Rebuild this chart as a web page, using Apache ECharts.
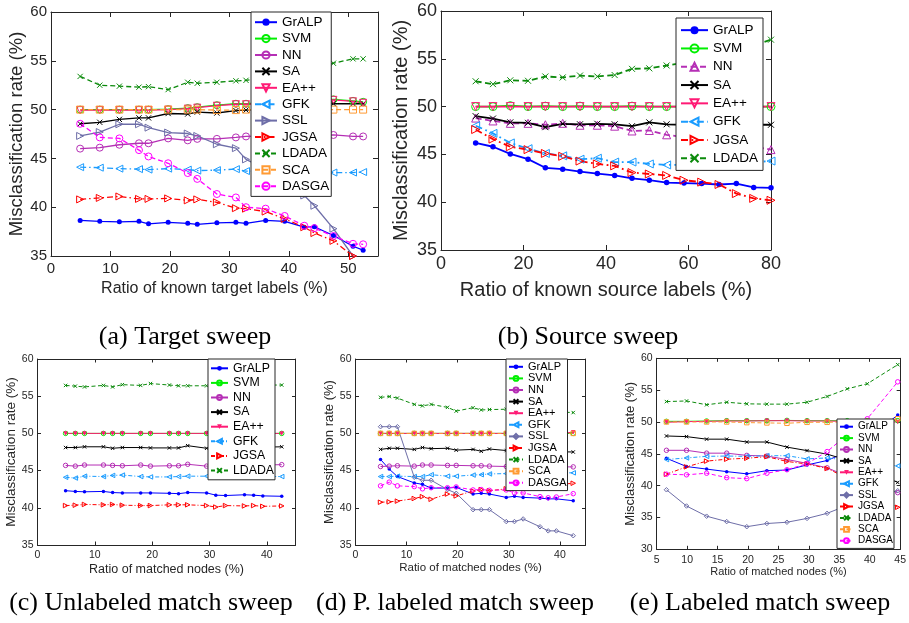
<!DOCTYPE html>
<html lang="en">
<head>
<meta charset="UTF-8">
<title>Misclassification rate sweeps</title>
<script src="https://cdn.jsdelivr.net/npm/echarts@6/dist/echarts.min.js"></script>
<style>
    html, body { margin: 0; padding: 0; background: #fff; }
    #main { width: 909px; height: 623px; }
</style>
</head>
<body>
<div id="main"></div>
<script>
// (a) target sweep
var aX = [4.9, 8.2, 11.5, 14.8, 16.4, 19.7, 23.0, 24.6, 27.9, 31.1, 32.8, 36.1, 39.3, 42.6, 44.3, 47.5, 50.8, 52.5];
var aGrALP = [38.65, 38.55, 38.5, 38.55, 38.3, 38.45, 38.35, 38.25, 38.4, 38.45, 38.35, 38.65, 38.55, 37.95, 38.0, 37.1, 36.0, 35.6];
var aSVM = [50.0, 50.0, 50.0, 50.0, 50.0, 50.05, 50.15, 50.25, 50.45, 50.6, 50.6, 50.7, 50.8, 50.9, 50.95, 51.05, 50.9, 50.8];
var aNN = [46.0, 46.1, 46.4, 46.55, 46.55, 47.05, 46.85, 47.0, 47.0, 47.15, 47.25, 47.3, 47.3, 47.35, 47.35, 47.4, 47.25, 47.25];
var aSA = [48.55, 48.7, 49.0, 49.15, 49.15, 49.6, 49.55, 49.75, 49.65, 49.9, 49.95, 50.1, 50.25, 50.4, 50.5, 50.6, 50.6, 50.6];
var aEA = [49.95, 49.95, 49.95, 49.95, 49.95, 50.0, 50.1, 50.2, 50.4, 50.55, 50.55, 50.65, 50.75, 50.85, 50.9, 51.0, 50.85, 50.7];
var aGFK = [44.1, 44.05, 43.95, 43.9, 43.85, 43.95, 43.85, 43.75, 43.8, 43.9, 43.7, 43.65, 43.6, 43.55, 43.55, 43.55, 43.55, 43.6];
var aSSL = [47.3, 47.7, 48.5, 48.5, 48.15, 47.65, 47.55, 47.3, 46.45, 46.05, 44.9, 43.9, 42.6, 41.2, 40.15, 37.8, 35.0, 34.2];
var aJGSA = [40.8, 40.95, 41.1, 40.85, 40.85, 40.9, 40.7, 40.8, 40.5, 39.9, 39.85, 39.55, 38.8, 37.95, 37.35, 36.55, 35.0, 34.3];
var aLDADA = [53.4, 52.5, 52.4, 52.3, 52.35, 52.05, 52.8, 52.7, 52.8, 52.95, 53.0, 53.3, 53.6, 54.0, 54.3, 54.75, 55.2, 55.2];
var aSCA = [50.0, 50.0, 50.0, 50.0, 50.0, 50.0, 50.0, 50.0, 49.95, 49.95, 50.0, 50.0, 50.0, 50.0, 50.0, 50.0, 50.0, 50.0];
var aDASGA = [48.55, 47.15, 47.05, 45.85, 45.2, 44.5, 43.5, 42.9, 41.35, 41.0, 40.0, 39.85, 39.1, 38.1, 37.85, 37.05, 36.25, 36.2];

// (b) source sweep
var bX = [8.4, 12.6, 16.8, 21.1, 25.3, 29.5, 33.7, 37.9, 42.1, 46.3, 50.5, 54.7, 58.9, 63.2, 67.4, 71.6, 75.8, 80.0];
var bGrALP = [46.2, 45.8, 45.05, 44.5, 43.6, 43.45, 43.2, 43.0, 42.8, 42.5, 42.3, 42.05, 42.0, 41.95, 41.85, 41.95, 41.55, 41.5];
var bSVM = [50.0, 50.0, 50.1, 50.0, 50.05, 50.0, 50.05, 50.0, 50.0, 50.05, 50.0, 50.0, 50.0, 50.0, 50.0, 50.0, 50.0, 50.0];
var bNN = [48.8, 48.5, 48.25, 48.25, 48.1, 48.25, 48.05, 48.05, 47.95, 47.45, 47.5, 47.05, 46.8, 46.5, 46.2, 46.0, 45.8, 45.5];
var bSA = [49.0, 48.75, 48.35, 48.3, 47.85, 48.2, 48.15, 48.2, 48.15, 47.95, 48.35, 48.15, 48.1, 48.1, 48.1, 48.1, 48.1, 48.1];
var bEA = [50.0, 50.0, 50.0, 50.0, 50.0, 50.0, 50.0, 50.0, 50.0, 50.0, 50.0, 50.0, 50.0, 50.0, 50.0, 50.0, 50.0, 50.0];
var bGFK = [48.0, 47.2, 46.2, 45.6, 45.1, 44.85, 44.5, 44.6, 44.2, 44.2, 44.0, 43.9, 43.9, 43.9, 44.0, 44.1, 44.2, 44.3];
var bJGSA = [47.6, 46.6, 45.8, 45.5, 45.1, 44.8, 44.3, 44.0, 43.8, 43.1, 42.95, 42.8, 42.3, 42.1, 41.85, 40.9, 40.4, 40.2];
var bLDADA = [52.65, 52.35, 52.75, 52.7, 53.15, 53.05, 53.25, 53.15, 53.3, 53.95, 54.0, 54.3, 54.6, 55.0, 55.4, 55.9, 56.4, 57.0];

// (c) unlabeled and (d) partially labeled match sweeps share the x values
var cdX = [4.9, 6.6, 8.2, 11.5, 13.1, 14.8, 18.0, 19.7, 23.0, 24.6, 26.2, 29.5, 31.1, 32.8, 36.1, 37.7, 39.3, 42.6];
var cGrALP = [42.3, 42.2, 42.15, 42.2, 42.05, 42.0, 42.0, 42.0, 41.95, 41.9, 42.05, 42.0, 41.7, 41.65, 41.75, 41.7, 41.6, 41.55];
var cSVM = [50.0, 50.0, 50.0, 50.0, 50.0, 50.0, 50.0, 50.0, 50.0, 50.0, 50.0, 50.0, 50.0, 50.0, 50.0, 50.0, 50.0, 50.0];
var cNN = [45.7, 45.6, 45.75, 45.75, 45.7, 45.65, 45.75, 45.6, 45.65, 45.65, 45.85, 45.6, 45.65, 45.7, 45.7, 45.7, 45.75, 45.8];
var cSA = [48.1, 48.1, 48.2, 48.2, 48.0, 48.1, 48.1, 48.05, 48.05, 48.05, 48.35, 48.0, 48.1, 48.1, 48.1, 48.15, 48.15, 48.2];
var cEA = [50.0, 50.0, 50.0, 50.0, 50.0, 50.0, 50.0, 50.0, 50.0, 50.0, 50.0, 50.0, 50.0, 50.0, 50.0, 50.0, 50.0, 50.0];
var cGFK = [44.1, 44.0, 44.25, 44.2, 44.35, 44.4, 44.2, 44.15, 44.15, 44.2, 44.25, 44.25, 44.2, 44.2, 44.2, 44.2, 44.2, 44.2];
var cJGSA = [40.3, 40.35, 40.45, 40.4, 40.45, 40.35, 40.3, 40.3, 40.4, 40.4, 40.4, 40.3, 40.1, 40.3, 40.25, 40.3, 40.2, 40.25];
var cLDADA = [56.45, 56.35, 56.25, 56.45, 56.25, 56.55, 56.45, 56.7, 56.5, 56.4, 56.4, 56.4, 56.4, 56.45, 56.45, 56.45, 56.5, 56.5];

var dGrALP = [46.5, 45.2, 44.2, 43.35, 43.15, 42.65, 42.65, 42.75, 41.85, 41.95, 41.85, 41.4, 41.55, 41.4, 41.3, 41.2, 41.2, 40.95];
var dSVM = [50.0, 50.0, 50.0, 50.0, 50.0, 50.0, 50.0, 50.0, 50.0, 50.0, 50.0, 50.0, 50.0, 50.0, 50.0, 50.0, 50.0, 50.0];
var dNN = [45.55, 45.6, 45.65, 45.6, 45.75, 45.75, 45.7, 45.7, 45.65, 45.65, 45.6, 45.55, 45.55, 45.55, 45.5, 45.5, 45.5, 45.5];
var dSA = [47.85, 48.0, 48.0, 47.85, 48.1, 47.95, 48.0, 47.75, 47.85, 47.6, 47.9, 47.7, 47.65, 47.6, 47.6, 47.55, 47.55, 47.5];
var dEA = [50.0, 50.0, 50.0, 50.0, 50.0, 50.0, 50.0, 50.0, 50.0, 50.0, 50.0, 50.0, 50.0, 50.0, 50.0, 50.0, 50.0, 50.15];
var dGFK = [44.2, 44.2, 44.25, 44.2, 44.2, 44.45, 44.25, 44.25, 44.4, 44.45, 44.55, 44.6, 44.6, 44.65, 44.65, 44.65, 44.7, 44.7];
var dSSL = [50.9, 50.9, 50.9, 44.1, 43.7, 43.7, 42.45, 41.95, 39.75, 39.75, 39.75, 38.15, 38.15, 38.5, 37.45, 36.9, 36.9, 36.25];
var dJGSA = [40.75, 40.8, 40.9, 41.25, 41.5, 41.15, 41.85, 41.6, 42.25, 42.45, 42.3, 42.55, 42.6, 42.7, 42.9, 43.0, 43.1, 43.3];
var dLDADA = [54.85, 54.95, 54.75, 53.9, 53.7, 53.9, 53.5, 53.0, 53.45, 53.15, 53.2, 53.25, 53.2, 53.1, 53.0, 52.95, 52.9, 52.8];
var dSCA = [50.0, 50.0, 50.0, 50.0, 50.0, 50.0, 50.0, 50.0, 50.0, 50.0, 50.0, 50.0, 50.0, 50.0, 50.0, 50.0, 50.0, 50.0];
var dDASGA = [42.95, 43.45, 42.95, 42.85, 42.55, 42.7, 42.7, 42.8, 42.4, 42.45, 42.35, 42.4, 42.0, 42.0, 41.5, 41.35, 41.45, 41.9];

// (e) labeled match sweep
var eX = [6.6, 9.9, 13.2, 16.5, 19.8, 23.1, 26.4, 29.7, 33.0, 36.3, 39.6, 44.6];
var eGrALP = [44.3, 43.0, 42.6, 42.2, 41.85, 42.35, 42.45, 43.25, 43.95, 45.3, 47.3, 51.1];
var eSVM = [50.1, 50.1, 50.15, 50.2, 50.2, 50.2, 50.25, 50.2, 50.2, 50.2, 50.2, 50.2];
var eNN = [45.55, 45.55, 45.1, 45.1, 44.75, 44.65, 44.1, 43.5, 42.8, 41.5, 40.3, 38.9];
var eSA = [47.8, 47.7, 47.3, 47.3, 46.85, 46.85, 46.05, 45.5, 44.95, 44.0, 42.6, 40.5];
var eEA = [49.95, 50.05, 50.1, 50.15, 50.15, 50.2, 50.2, 50.15, 50.15, 50.1, 50.1, 50.0];
var eGFK = [44.1, 44.35, 44.6, 44.65, 44.6, 44.7, 44.7, 44.2, 44.35, 44.0, 43.6, 43.1];
var eSSL = [39.35, 36.8, 35.2, 34.35, 33.55, 34.05, 34.25, 34.85, 35.65, 36.9, 38.0, 39.2];
var eJGSA = [41.8, 42.95, 43.85, 44.15, 44.3, 44.55, 43.8, 43.4, 42.7, 41.2, 39.2, 36.6];
var eLDADA = [53.2, 53.3, 52.7, 53.1, 52.85, 52.8, 52.8, 53.1, 54.0, 55.2, 56.0, 59.0];
var eSCA = [50.0, 50.0, 50.0, 50.0, 49.9, 49.85, 49.8, 49.95, 49.95, 50.0, 50.1, 50.5];
var eDASGA = [41.8, 41.7, 41.95, 41.25, 41.1, 41.95, 42.5, 43.45, 45.35, 48.0, 50.5, 56.3];

var FONT = 'Liberation Sans, Arial, Helvetica, sans-serif';
var AXC = '#262626';

var COLORS = {
    'GrALP': '#0000ff', 'SVM': '#00f000', 'NN': '#b52fb5', 'SA': '#000000', 'EA++': '#ff1a75',
    'GFK': '#1a9cff', 'SSL': '#6e6ea8', 'JGSA': '#ff0000', 'LDADA': '#0b8a0b', 'SCA': '#ff9a33', 'DASGA': '#ff00ff'
};
var SHAPES = {
    circle: 'circle', up: 'triangle', diamond: 'diamond', square: 'rect',
    down: 'path://M0,0L10,0L5,9Z',
    left: 'path://M0,5L9,0L9,10Z',
    right: 'path://M0,0L9,5L0,10Z',
    x: 'path://M0,0L10,10M10,0L0,10'
};
// [line type, marker, filled]
var STYLE = {
    'GrALP': ['solid', 'circle', true],
    'SVM': ['solid', 'circle', false],
    'NN': ['solid', 'circle', false],
    'SA': ['solid', 'x', false],
    'EA++': ['solid', 'down', false],
    'GFK': ['dashdot', 'left', false],
    'SSL': ['solid', 'right', false],
    'JGSA': ['dashdot', 'right', false],
    'LDADA': ['dashed', 'x', false],
    'SCA': ['dashed', 'square', false],
    'DASGA': ['dashed', 'circle', false]
};

var panels = [
    {
        id: 'a', x: aX,
        y: { 'GrALP': aGrALP, 'SVM': aSVM, 'NN': aNN, 'SA': aSA, 'EA++': aEA, 'GFK': aGFK, 'SSL': aSSL, 'JGSA': aJGSA, 'LDADA': aLDADA, 'SCA': aSCA, 'DASGA': aDASGA },
        box: { left: 51, top: 12, width: 327, height: 244 },
        xr: [0, 55, 10], yr: [35, 60, 5], xName: 'Ratio of known target labels (%)',
        tick: 15, xNameSize: 16, yNameSize: 18.5, xGap: 25, yGap: 24, tickLen: 5, sym: 7, dot: 5, lw: 1.3,
        dash: [5, 3], dashDot: [6, 3, 1.5, 3],
        leg: { left: 251, top: 12, font: 13.5, row: 16.4, iw: 22, ih: 9, pad: [2, 2, 2, 3] },
        cap: { text: '(a) Target sweep', x: 185, y: 337 }
    },
    {
        id: 'b', x: bX,
        y: { 'GrALP': bGrALP, 'SVM': bSVM, 'NN': bNN, 'SA': bSA, 'EA++': bEA, 'GFK': bGFK, 'JGSA': bJGSA, 'LDADA': bLDADA },
        over: { 'NN': ['dashed', 'up', false] },
        box: { left: 441, top: 11, width: 330, height: 239 },
        xr: [0, 80, 20], yr: [35, 60, 5], xName: 'Ratio of known source labels (%)',
        tick: 18, xNameSize: 20, yNameSize: 20, xGap: 30, yGap: 30, tickLen: 5, sym: 8, dot: 5.5, lw: 1.8,
        dash: [6, 3.5], dashDot: [7, 3.5, 1.8, 3.5],
        leg: { left: 676, top: 18, font: 13.5, row: 18.3, iw: 27, ih: 10, pad: [3, 5, 3, 4] },
        cap: { text: '(b) Source sweep', x: 588, y: 337 }
    },
    {
        id: 'c', x: cdX,
        y: { 'GrALP': cGrALP, 'SVM': cSVM, 'NN': cNN, 'SA': cSA, 'EA++': cEA, 'GFK': cGFK, 'JGSA': cJGSA, 'LDADA': cLDADA },
        over: { 'EA++': ['solid', 'down', true] },
        box: { left: 37.5, top: 359, width: 258, height: 186 },
        xr: [0, 45, 10], yr: [35, 60, 5], xName: 'Ratio of matched nodes (%)',
        tick: 10.5, xNameSize: 12.5, yNameSize: 13.5, xGap: 18, yGap: 19, tickLen: 3.5, sym: 4.5, dot: 3.5, lw: 1,
        dash: [4, 2.5], dashDot: [4, 2, 1, 2],
        leg: { left: 208, top: 359, font: 12.3, row: 14.6, iw: 17, ih: 6, pad: [2, 1, 2, 2] },
        cap: { text: '(c) Unlabeled match sweep', x: 151, y: 603 }
    },
    {
        id: 'd', x: cdX,
        y: { 'GrALP': dGrALP, 'SVM': dSVM, 'NN': dNN, 'SA': dSA, 'EA++': dEA, 'GFK': dGFK, 'SSL': dSSL, 'JGSA': dJGSA, 'LDADA': dLDADA, 'SCA': dSCA, 'DASGA': dDASGA },
        over: { 'EA++': ['solid', 'down', true], 'SSL': ['solid', 'diamond', false] },
        box: { left: 355.5, top: 359, width: 230, height: 186 },
        xr: [0, 45, 10], yr: [35, 60, 5], xName: 'Ratio of matched nodes (%)',
        tick: 10.5, xNameSize: 11.5, yNameSize: 13, xGap: 17, yGap: 18, tickLen: 3.5, sym: 4.5, dot: 3.5, lw: 1,
        dash: [4, 2.5], dashDot: [4, 2, 1, 2],
        leg: { left: 506, top: 359, font: 11, row: 11.6, iw: 14, ih: 6, pad: [2, 1, 2, 2] },
        cap: { text: '(d) P. labeled match sweep', x: 455, y: 603 }
    },
    {
        id: 'e', x: eX,
        y: { 'GrALP': eGrALP, 'SVM': eSVM, 'NN': eNN, 'SA': eSA, 'EA++': eEA, 'GFK': eGFK, 'SSL': eSSL, 'JGSA': eJGSA, 'LDADA': eLDADA, 'SCA': eSCA, 'DASGA': eDASGA },
        over: { 'EA++': ['solid', 'down', true], 'SSL': ['solid', 'diamond', false] },
        box: { left: 656.7, top: 358.3, width: 246, height: 191 },
        xr: [5, 45, 5], yr: [30, 60, 5], xName: 'Ratio of matched nodes (%)',
        tick: 10.5, xNameSize: 11, yNameSize: 13, xGap: 16, yGap: 17, tickLen: 3.5, sym: 4.5, dot: 3.5, lw: 1,
        dash: [4, 2.5], dashDot: [4, 2, 1, 2],
        leg: { left: 837, top: 419, font: 10, row: 11.4, iw: 13, ih: 6, pad: [2, 1, 2, 2] },
        cap: { text: '(e) Labeled match sweep', x: 760, y: 603 }
    }
];

var grids = [], xAxes = [], yAxes = [], legends = [], series = [], graphics = [];

function axis(p, gi, dir, mirror) {
    var r = dir === 'x' ? p.xr : p.yr;
    var a = {
        gridIndex: gi, type: 'value', min: r[0], max: r[1], interval: r[2],
        position: dir === 'x' ? (mirror ? 'top' : 'bottom') : (mirror ? 'right' : 'left'),
        axisLine: { onZero: false, lineStyle: { color: AXC, width: 1 } },
        axisTick: { inside: true, length: p.tickLen, lineStyle: { color: AXC } },
        axisLabel: {
            show: !mirror, fontSize: p.tick, fontFamily: FONT, color: AXC, margin: dir === 'x' ? 5 : 4,
            // the extra tick at a max that is off the step (55, 45) gets no label
            formatter: function (v) { return Math.abs((v - r[0]) % r[2]) < 1e-6 ? String(v) : ''; }
        },
        splitLine: { show: false }
    };
    if (!mirror) {
        a.name = dir === 'x' ? p.xName : 'Misclassification rate (%)';
        a.nameLocation = 'middle';
        a.nameGap = dir === 'x' ? p.xGap : p.yGap;
        a.nameTextStyle = { fontSize: dir === 'x' ? p.xNameSize : p.yNameSize, fontFamily: FONT, color: AXC };
    }
    return a;
}

panels.forEach(function (p, gi) {
    grids.push({ left: p.box.left, top: p.box.top, width: p.box.width, height: p.box.height, containLabel: false });
    xAxes.push(axis(p, gi, 'x', false), axis(p, gi, 'x', true));
    yAxes.push(axis(p, gi, 'y', false), axis(p, gi, 'y', true));

    var names = Object.keys(p.y);
    names.forEach(function (n) {
        var st = (p.over && p.over[n]) || STYLE[n];
        var col = COLORS[n];
        var lt = st[0] === 'dashed' ? p.dash : (st[0] === 'dashdot' ? p.dashDot : 'solid');
        var filled = st[2];
        var ys = p.y[n];
        var size = n === 'GrALP' ? p.dot : (st[1] === 'x' ? p.sym * 0.75 : p.sym);
        series.push({
            name: p.id + '_' + n,
            type: 'line',
            xAxisIndex: gi * 2,
            yAxisIndex: gi * 2,
            data: p.x.map(function (x, i) { return [x, ys[i]]; }),
            symbol: SHAPES[st[1]],
            symbolSize: size,
            showSymbol: true,
            lineStyle: { color: col, width: p.lw, type: lt },
            itemStyle: filled
                ? { color: col, borderColor: col, borderWidth: 0 }
                : { color: 'transparent', borderColor: col, borderWidth: 1 },
            emphasis: { disabled: true },
            clip: true
        });
    });

    legends.push({
        orient: 'vertical',
        left: p.leg.left, top: p.leg.top,
        backgroundColor: '#fff', borderColor: AXC, borderWidth: 1, borderRadius: 0,
        padding: p.leg.pad,
        itemWidth: p.leg.iw, itemHeight: p.leg.ih, itemGap: 0,
        selectedMode: false,
        textStyle: { fontSize: p.leg.font, lineHeight: p.leg.row, color: '#000', fontFamily: FONT },
        data: names.map(function (n) { return p.id + '_' + n; }),
        formatter: function (n) { return n.split('_')[1]; }
    });

    graphics.push({
        type: 'text', x: p.cap.x, y: p.cap.y,
        style: {
            text: p.cap.text, fontSize: 26, fontFamily: 'Liberation Serif, Times New Roman, serif',
            fill: '#000', align: 'center', verticalAlign: 'middle'
        }
    });
});

var chart = echarts.init(document.getElementById('main'));
chart.setOption({
    backgroundColor: '#fff',
    animation: false,
    grid: grids,
    xAxis: xAxes,
    yAxis: yAxes,
    legend: legends,
    series: series,
    graphic: graphics
});
</script>
</body>
</html>
